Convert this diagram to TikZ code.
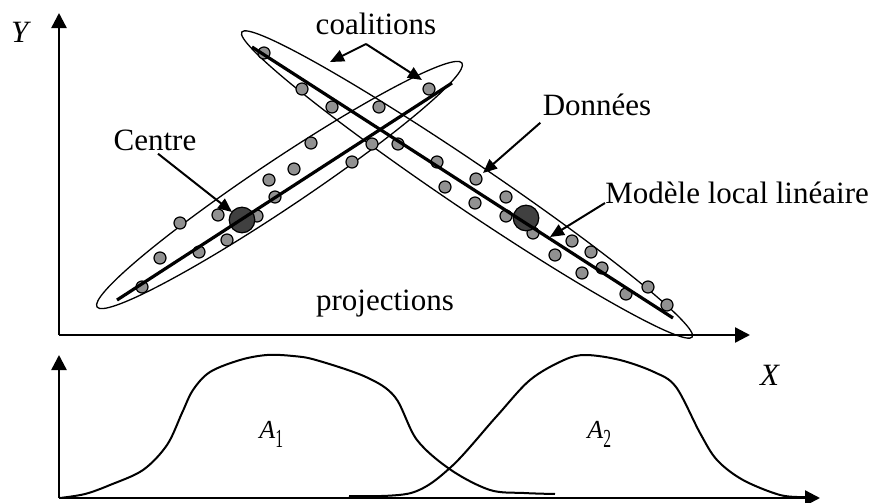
\documentclass[tikz,border=0pt]{standalone}
\usepackage{fontspec}
\setmainfont{Liberation Serif}
\usetikzlibrary{arrows.meta, positioning, calc}
\definecolor{dotgray}{RGB}{145,145,145}
\definecolor{centregray}{RGB}{64,64,64}

\begin{document}
\begin{tikzpicture}[x=0.5pt, y=-0.5pt, font=\fontsize{15.5}{18}\selectfont,
    axis/.style={line width=1.2pt, -{Triangle[length=7.5pt, width=7.5pt]}},
    pointer/.style={line width=1pt, -{Triangle[length=7pt, width=6pt]}},
    coalition/.style={line width=0.65pt},
    modelline/.style={line width=1.6pt},
    degree/.style={line width=1pt},
    label/.style={inner sep=0pt, anchor=base}]
    \useasboundingbox (0,0) rectangle (879,503);

    % Axes (top)
    \coordinate (origin) at (59,335);
    \coordinate (ytip) at (59,13);
    \coordinate (xtip) at (750,335);
    \draw[axis] (origin) -- (ytip);
    \draw[axis] (origin) -- (xtip);

    % Coalitions
    \draw[coalition, rotate around={33.76:(279.5,185)}] (279.5,185) ellipse [x radius=109.75pt, y radius=12pt];
    \draw[coalition, rotate around={-34.1:(467,184.5)}] (467,184.5) ellipse [x radius=136pt, y radius=11.5pt];

    % Data points
    \foreach \px/\py in {379/107, 429/89, 311/143, 372/144, 352/162, 294/169, 269/180, 275/197,
        218/215, 257/216, 180/223, 227/240, 199/252, 160/258, 142/287}
        \filldraw[fill=dotgray, draw=black, line width=0.6pt] (\px,\py) circle[radius=3pt];
    \foreach \px/\py in {264/53, 302/89, 332/107, 398/144, 437/162, 445/187, 476/179, 475/203,
        506/197, 506/216, 533/233, 572/241, 591/252, 555/255, 602/268, 582/273, 648/287, 626/294, 667/305}
        \filldraw[fill=dotgray, draw=black, line width=0.6pt] (\px,\py) circle[radius=3pt];

    % Centres
    \filldraw[fill=centregray, draw=black, line width=0.6pt] (242,220) circle[radius=6.4pt];
    \filldraw[fill=centregray, draw=black, line width=0.6pt] (526,218) circle[radius=6.4pt];

    % Local linear models
    \coordinate (riseA) at (117,300);
    \coordinate (riseB) at (452,83);
    \coordinate (fallA) at (252,47);
    \coordinate (fallB) at (673,318);
    \draw[modelline] (riseA) -- (riseB);
    \draw[modelline] (fallA) -- (fallB);

    % Labels
    \node[label] (ylab) at (21,42) {\textit{Y}};
    \node[label] (xlab) at (770,385) {\textit{X}};
    \node[label] (coal) at (376,34) {coalitions};
    \node[label] (centre) at (155,150) {Centre};
    \node[label] (donnees) at (597,115) {Données};
    \node[label, anchor=base west] (modele) at (605,203) {Modèle local linéaire};
    \node[label] (proj) at (385,310) {projections};

    % Pointers
    \coordinate (fork) at (366,44);
    \coordinate (coalA) at (330,62);
    \coordinate (coalB) at (422,80);
    \coordinate (centreTip) at (232,212);
    \coordinate (donneesTip) at (483,173);
    \coordinate (modeleTip) at (550,237);
    \draw[pointer] (fork) -- (coalA);
    \draw[pointer] (fork) -- (coalB);
    \draw[pointer] ([shift={(3,3)}]centre.south) -- (centreTip);
    \draw[pointer] ([shift={(-2,7)}]donnees.south west) -- (donneesTip);
    \draw[pointer] (modele.base west) -- (modeleTip);

    % Axes (bottom)
    \coordinate (origintwo) at (59,498);
    \coordinate (ytiptwo) at (59,355);
    \coordinate (xtiptwo) at (820,498);
    \draw[axis] (origintwo) -- (ytiptwo);
    \draw[axis] (origintwo) -- (xtiptwo);

    % Membership degrees
    \draw[degree] plot[smooth, tension=0.55] coordinates {(60,498) (85,494) (110,485) (143,470) (167,445)
        (182,413) (193,390) (210,372) (240,360) (267,355) (293,356) (316,360) (366,377) (395,397)
        (417,440) (451,470) (490,490) (524,493) (555,494)};
    \draw[degree] plot[smooth, tension=0.55] coordinates {(349,496) (411,493) (451,467) (496,417)
        (530,380) (564,360) (586,355) (620,360) (654,372) (676,387) (700,433) (717,460) (743,480)
        (780,495) (805,497)};
    \node[label, anchor=base west, font=\fontsize{13}{15}\selectfont] (aone) at (259,438)
        {\textit{A}\raisebox{-4.5pt}{\scalebox{0.6}[1]{1}}};
    \node[label, anchor=base west, font=\fontsize{13}{15}\selectfont] (atwo) at (587,438)
        {\textit{A}\raisebox{-4.5pt}{\scalebox{0.6}[1]{2}}};
\end{tikzpicture}
\end{document}
